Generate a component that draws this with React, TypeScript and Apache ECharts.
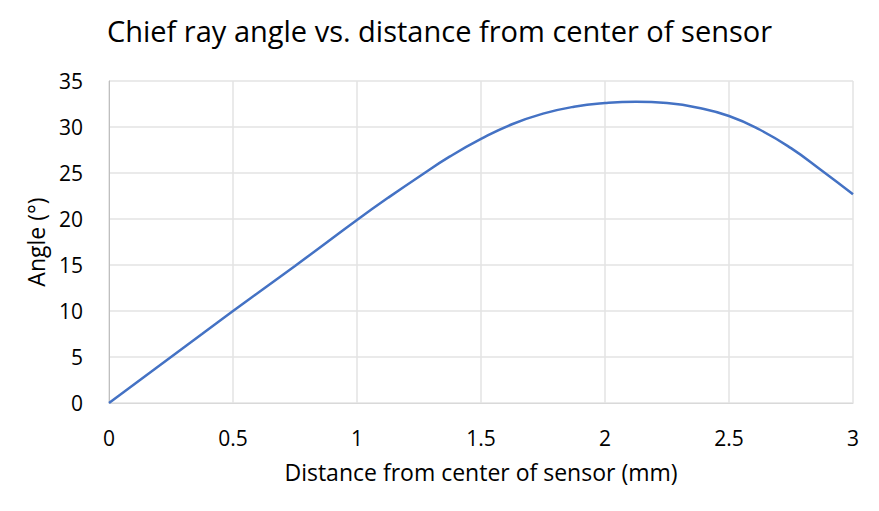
import React, { useEffect, useRef } from "react";
import * as echarts from "echarts";

const distances = [0, 0.125, 0.25, 0.375, 0.5, 0.625, 0.75, 0.875, 1, 1.125, 1.25, 1.375, 1.5, 1.625, 1.75, 1.875, 2, 2.125, 2.25, 2.375, 2.5, 2.625, 2.75, 2.875, 3];
const angles = [0, 2.5, 5.0, 7.5, 10.0, 12.45, 14.9, 17.4, 19.9, 22.3, 24.6, 26.8, 28.7, 30.3, 31.45, 32.2, 32.6, 32.75, 32.6, 32.1, 31.2, 29.7, 27.7, 25.25, 22.7];

const titleText = "Chief ray angle vs. distance from center of sensor";
const xAxisName = "Distance from center of sensor (mm)";
const yAxisName = "Angle (°)";

const FONT = "'Open Sans', sans-serif";

export default function App() {
  const ref = useRef<HTMLDivElement>(null);
  useEffect(() => {
    if (!ref.current) return;
    const chart = echarts.init(ref.current, undefined, { renderer: "svg" });
    chart.setOption({
      animation: false,
      backgroundColor: "#ffffff",
      title: {
        text: titleText,
        left: "center",
        top: 11,
        textStyle: { fontFamily: FONT, fontSize: 29, fontWeight: "normal", color: "#000000" },
      },
      grid: { left: 109, right: 26, top: 81, bottom: 108, containLabel: false },
      xAxis: {
        type: "value",
        min: 0,
        max: 3,
        interval: 0.5,
        name: xAxisName,
        nameLocation: "middle",
        nameGap: 57,
        nameTextStyle: { fontFamily: FONT, fontSize: 23, color: "#000000" },
        axisLine: { show: true, lineStyle: { color: "#d9d9d9", width: 1 } },
        axisTick: { show: false },
        axisLabel: { fontFamily: FONT, fontSize: 21, color: "#000000", margin: 24 },
        splitLine: { show: true, lineStyle: { color: "#e3e3e3", width: 1.5 } },
      },
      yAxis: {
        type: "value",
        min: 0,
        max: 35,
        interval: 5,
        name: yAxisName,
        nameLocation: "middle",
        nameGap: 62,
        nameRotate: 90,
        nameTextStyle: { fontFamily: FONT, fontSize: 23, color: "#000000" },
        axisLine: { show: true, lineStyle: { color: "#bfbfbf", width: 1 } },
        axisTick: { show: false },
        axisLabel: { fontFamily: FONT, fontSize: 21, color: "#000000", margin: 26 },
        splitLine: { show: true, lineStyle: { color: "#e3e3e3", width: 1.5 } },
      },
      series: [
        {
          type: "line",
          data: distances.map((d, i) => [d, angles[i]]),
          smooth: 0.5,
          showSymbol: false,
          lineStyle: { color: "#4472C4", width: 2.5 },
        },
      ],
    });
    return () => chart.dispose();
  }, []);
  return <div ref={ref} style={{ width: 879, height: 511, margin: -8 }} />;
}
